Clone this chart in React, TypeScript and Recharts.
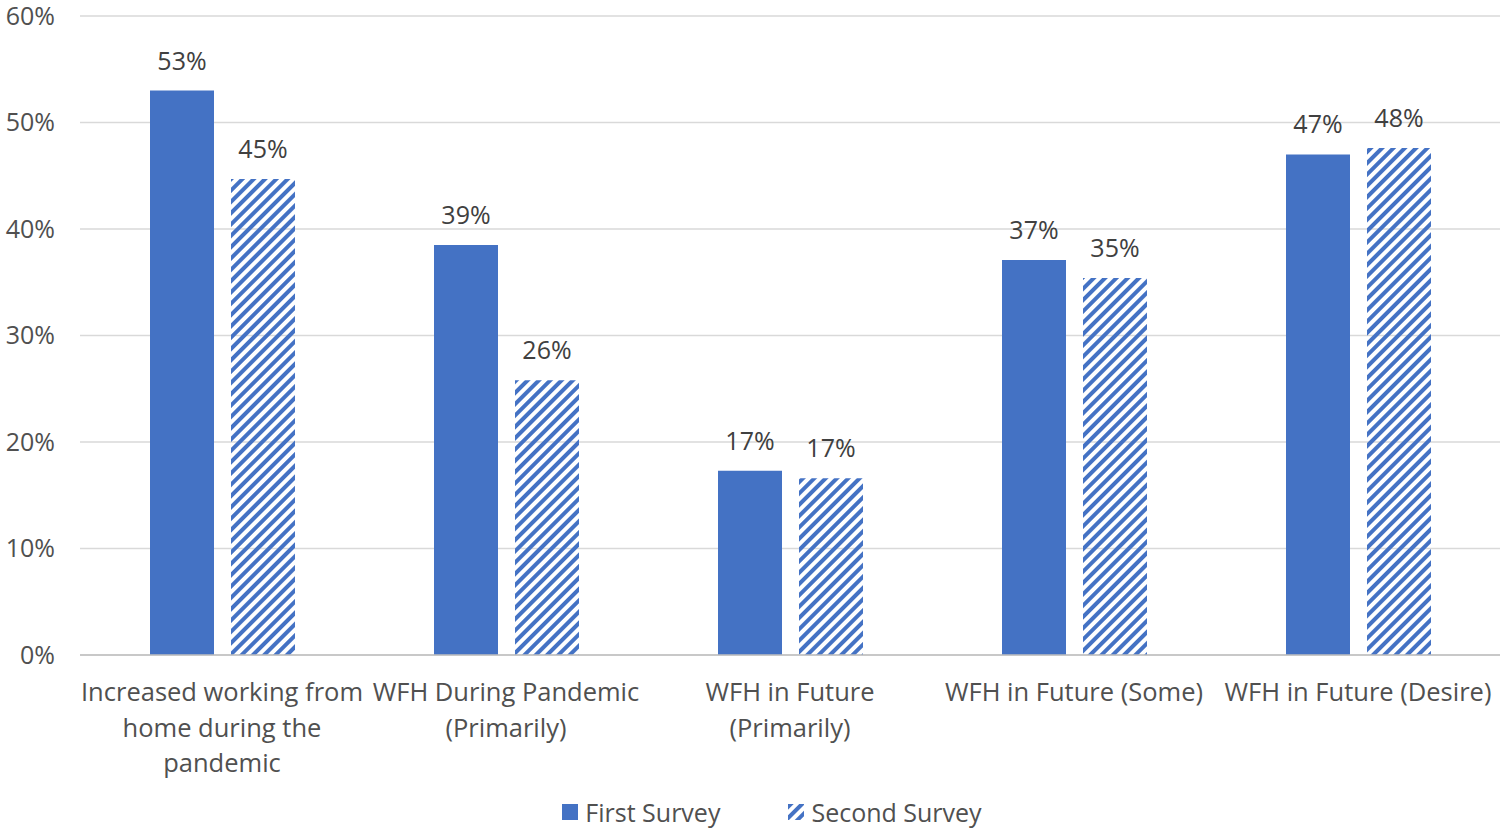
import React from "react";
import { BarChart, Bar, XAxis, YAxis, CartesianGrid, LabelList, Legend } from "recharts";

const categories = [
    "Increased working from home during the pandemic",
    "WFH During Pandemic (Primarily)",
    "WFH in Future (Primarily)",
    "WFH in Future (Some)",
    "WFH in Future (Desire)",
];
const firstSurvey = [53, 38.5, 17.3, 37.1, 47];
const secondSurvey = [44.7, 25.8, 16.6, 35.4, 47.6];
const yTicks = [0, 10, 20, 30, 40, 50, 60];

const BLUE = "#4472C4";
const FONT = "'Open Sans', sans-serif";
const TEXT = "#505050";
const CAT_SIZE = 25.5;

const data = categories.map((name, i) => ({
    name,
    first: firstSurvey[i],
    second: secondSurvey[i],
}));

// word wrap using canvas text metrics
let ctx: CanvasRenderingContext2D | null = null;
const wrap = (text: string, maxWidth: number, fontSize: number) => {
    if (!ctx) ctx = document.createElement("canvas").getContext("2d");
    ctx!.font = `${fontSize}px 'Open Sans'`;
    const lines: string[] = [];
    let line = "";
    text.split(" ").forEach((w) => {
        const test = line ? `${line} ${w}` : w;
        if (line && ctx!.measureText(test).width > maxWidth) {
            lines.push(line);
            line = w;
        } else {
            line = test;
        }
    });
    if (line) lines.push(line);
    return lines;
};

const CategoryTick = (props: any) => {
    const { x, y, payload } = props;
    const lines = wrap(payload.value, 286, CAT_SIZE);
    return (
        <text x={x} y={y + 38} textAnchor="middle" fontSize={CAT_SIZE} fontFamily={FONT} fill={TEXT}>
            {lines.map((l, i) => (
                <tspan key={i} x={x} dy={i === 0 ? 0 : 35.5}>{l}</tspan>
            ))}
        </text>
    );
};

const LegendContent = () => (
    <div style={{ display: "flex", justifyContent: "center", gap: 68, fontFamily: FONT, fontSize: 25, color: TEXT, marginTop: 4, paddingLeft: 44 }}>
        <div style={{ display: "flex", alignItems: "center", gap: 7 }}>
            <svg width={16} height={16}><rect width={16} height={16} fill={BLUE} /></svg>
            <span>First Survey</span>
        </div>
        <div style={{ display: "flex", alignItems: "center", gap: 7 }}>
            <svg width={16} height={16}>
                <defs>
                    <pattern id="hatchLegend" width={8} height={8} patternUnits="userSpaceOnUse" patternTransform="rotate(45)">
                        <rect width={4} height={8} fill={BLUE} />
                    </pattern>
                </defs>
                <rect width={16} height={16} fill="url(#hatchLegend)" />
            </svg>
            <span>Second Survey</span>
        </div>
    </div>
);

const pct = (v: any) => `${Math.round(Number(v))}%`;

export default function App() {
    return (
        <div style={{ position: "absolute", left: 0, top: 0, width: 1501, height: 831, background: "#fff" }}>
            <BarChart
                width={1501}
                height={831}
                data={data}
                margin={{ top: 16, right: 1, left: 0, bottom: 0 }}
                barSize={64}
                barGap={17}
            >
                <defs>
                    <pattern id="hatch" width={8} height={8} patternUnits="userSpaceOnUse" patternTransform="rotate(45)">
                        <rect width={4} height={8} fill={BLUE} />
                    </pattern>
                </defs>
                <CartesianGrid vertical={false} stroke="#d9d9d9" strokeWidth={1.5} />
                <XAxis
                    dataKey="name"
                    interval={0}
                    height={136}
                    tickLine={false}
                    axisLine={{ stroke: "#bfbfbf", strokeWidth: 1.5 }}
                    tick={<CategoryTick />}
                />
                <YAxis
                    width={80}
                    domain={[0, 60]}
                    ticks={yTicks}
                    tickFormatter={(v) => `${v}%`}
                    axisLine={false}
                    tickLine={false}
                    tickMargin={19}
                    tick={{ fontSize: 25, fontFamily: FONT, fill: TEXT }}
                />
                <Legend verticalAlign="bottom" height={40} content={<LegendContent />} />
                <Bar dataKey="first" name="First Survey" fill={BLUE} isAnimationActive={false}>
                    <LabelList dataKey="first" position="top" offset={21} formatter={pct} fontSize={25} fontFamily={FONT} fill="#404040" />
                </Bar>
                <Bar dataKey="second" name="Second Survey" fill="url(#hatch)" isAnimationActive={false}>
                    <LabelList dataKey="second" position="top" offset={21} formatter={pct} fontSize={25} fontFamily={FONT} fill="#404040" />
                </Bar>
            </BarChart>
        </div>
    );
}
